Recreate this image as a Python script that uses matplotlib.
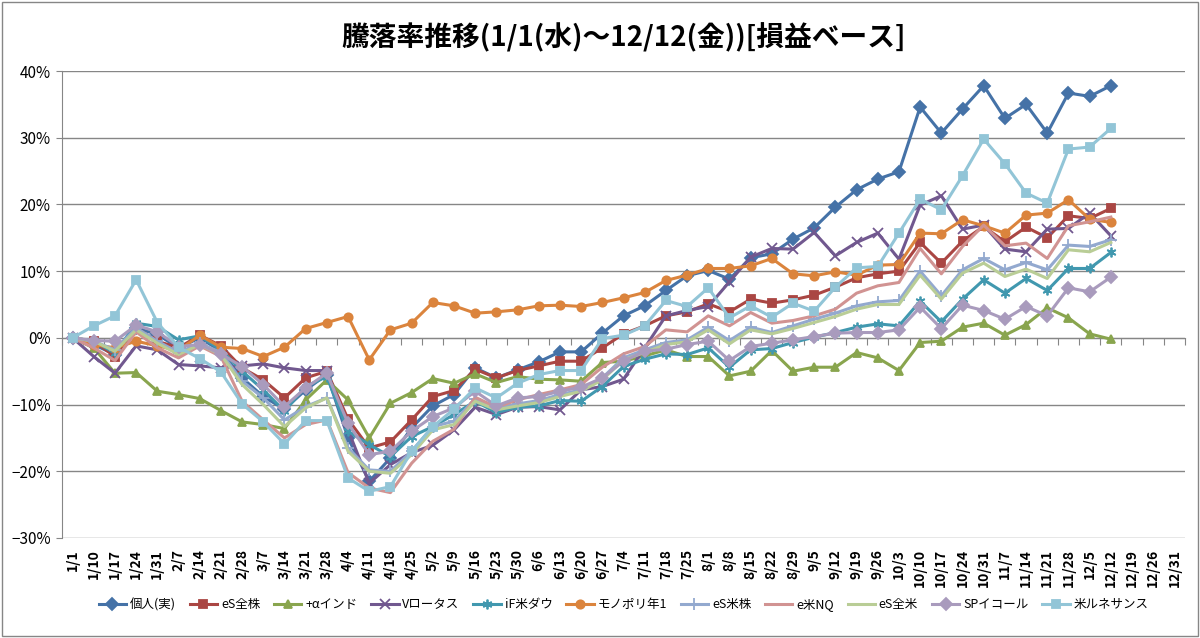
import matplotlib
matplotlib.use('Agg')
import matplotlib.pyplot as plt
from matplotlib.patches import Rectangle
from matplotlib.ticker import PercentFormatter

plt.rcParams['font.family'] = ['Noto Sans CJK JP', 'DejaVu Sans']

# 週ごとの日付ラベル
dates = ['1/1', '1/10', '1/17', '1/24', '1/31', '2/7', '2/14', '2/21', '2/28', '3/7',
         '3/14', '3/21', '3/28', '4/4', '4/11', '4/18', '4/25', '5/2', '5/9', '5/16',
         '5/23', '5/30', '6/6', '6/13', '6/20', '6/27', '7/4', '7/11', '7/18', '7/25',
         '8/1', '8/8', '8/15', '8/22', '8/29', '9/5', '9/12', '9/19', '9/26', '10/3',
         '10/10', '10/17', '10/24', '10/31', '11/7', '11/14', '11/21', '11/28', '12/5', '12/12',
         '12/19', '12/26', '12/31']

# 騰落率 (%)
kojin = [0, -1.0, -2.5, 1.5, 0.5, -1.5, 0.0, -2.0, -6.0, -8.8, -10.7, -7.8, -5.5, -15.0, -21.5,
         -18.0, -13.5, -10.2, -8.5, -4.5, -6.0, -4.8, -3.6, -2.1, -2.1, 0.7, 3.3, 4.8, 7.1, 9.3,
         10.1, 8.8, 12.0, 12.6, 14.8, 16.5, 19.6, 22.2, 23.8, 24.9, 34.6, 30.7, 34.3, 37.8, 32.9,
         35.0, 30.7, 36.7, 36.2, 37.8]
es_zenkabu = [0, -0.5, -2.8, 1.5, -0.5, -1.5, 0.4, -1.2, -4.5, -6.3, -9.0, -6.0, -5.0, -12.2, -16.5,
              -15.6, -12.3, -8.8, -7.9, -4.7, -6.0, -4.9, -4.2, -3.5, -3.5, -1.5, 0.6, 1.8, 3.3, 3.9,
              5.1, 3.9, 5.8, 5.2, 5.7, 6.4, 7.6, 9.0, 9.6, 10.0, 14.3, 11.2, 14.5, 16.7, 14.4,
              16.6, 15.0, 18.3, 17.9, 19.4]
alpha_ind = [0, -1.5, -5.3, -5.2, -8.0, -8.5, -9.1, -10.9, -12.6, -13.0, -13.6, -9.3, -6.3, -9.3, -15.0,
             -9.8, -8.2, -6.1, -6.8, -5.4, -6.7, -5.8, -6.2, -6.3, -6.5, -3.7, -3.5, -2.7, -1.8, -2.8,
             -2.8, -5.7, -5.0, -1.9, -5.0, -4.4, -4.4, -2.2, -3.0, -4.9, -0.7, -0.5, 1.6, 2.2, 0.4,
             2.0, 4.5, 3.0, 0.6, -0.2]
v_lotus = [0, -2.8, -5.3, -1.2, -1.8, -4.0, -4.2, -4.5, -4.2, -3.9, -4.5, -4.9, -4.9, -13.8, -21.8,
           -19.0, -17.2, -16.1, -13.8, -10.4, -11.5, -10.4, -10.3, -10.8, -7.8, -7.3, -6.2, -1.5, 3.3, 4.1,
           4.7, 8.4, 12.1, 13.4, 13.3, 15.8, 12.3, 14.3, 15.7, 11.8, 19.9, 21.3, 16.3, 16.9, 13.3,
           12.9, 16.3, 16.4, 18.7, 15.3]
if_dow = [0, -0.5, -2.3, 2.2, 1.7, -0.3, 0.3, -1.8, -5.0, -7.8, -11.0, -7.3, -5.8, -14.0, -16.0,
          -17.8, -14.8, -13.3, -11.5, -9.5, -11.2, -10.4, -10.2, -9.4, -9.5, -7.3, -4.3, -3.2, -2.4, -2.5,
          -1.5, -4.4, -1.8, -1.6, -0.7, 0.1, 0.8, 1.6, 2.1, 1.8, 5.5, 2.4, 5.8, 8.7, 6.7,
          8.9, 7.1, 10.4, 10.4, 12.8]
monopoly = [0, -1.0, -1.5, -0.5, -1.2, -1.9, 0.4, -1.4, -1.6, -2.8, -1.4, 1.4, 2.3, 3.2, -3.3,
            1.2, 2.2, 5.3, 4.8, 3.7, 3.9, 4.2, 4.8, 4.9, 4.7, 5.3, 6.0, 6.8, 8.6, 9.4,
            10.4, 10.4, 10.8, 11.9, 9.6, 9.3, 9.9, 9.4, 10.9, 11.0, 15.7, 15.6, 17.7, 16.8, 15.7,
            18.4, 18.7, 20.7, 17.8, 17.3]
es_beikabu = [0, -0.5, -1.8, 1.5, -0.5, -2.2, -0.8, -2.2, -6.5, -9.0, -12.3, -10.3, -9.0, -16.5, -19.8,
              -20.0, -17.0, -13.3, -12.5, -9.2, -10.5, -9.9, -9.4, -8.5, -7.8, -6.0, -3.0, -1.8, -0.7, -0.3,
              1.6, -0.4, 1.6, 0.8, 1.8, 2.8, 3.7, 4.8, 5.4, 5.6, 10.0, 6.3, 10.2, 11.9, 10.2,
              11.3, 10.2, 13.9, 13.7, 14.7]
e_nq = [0, -1.5, -3.4, 0.9, -1.5, -3.0, -1.2, -2.8, -9.5, -12.3, -15.0, -13.0, -12.3, -20.2, -22.5,
        -23.2, -18.8, -15.5, -13.7, -8.9, -10.4, -9.3, -8.5, -7.8, -7.0, -4.4, -2.4, -1.3, 1.2, 0.9,
        3.3, 1.8, 3.8, 2.2, 2.6, 3.3, 4.3, 6.7, 7.8, 8.3, 13.4, 9.6, 13.7, 16.9, 13.8,
        14.2, 11.9, 16.8, 17.4, 18.1]
es_zenbei = [0, -0.5, -2.0, 1.2, -0.8, -2.5, -1.0, -2.5, -7.0, -10.0, -13.3, -10.5, -9.0, -17.0, -20.0,
             -20.3, -17.5, -13.8, -13.0, -9.5, -10.8, -10.2, -9.7, -8.8, -8.0, -6.3, -3.3, -2.2, -1.0, -0.6,
             1.2, -0.9, 1.2, 0.6, 1.4, 2.3, 3.2, 4.3, 5.0, 5.0, 9.4, 5.8, 9.7, 11.2, 9.2,
             10.3, 8.9, 13.2, 12.9, 14.3]
sp_equal = [0, -0.4, -0.5, 1.9, 0.9, -1.3, -1.0, -2.4, -4.3, -7.0, -10.3, -7.5, -5.3, -12.8, -17.5,
            -17.0, -14.0, -11.8, -10.5, -8.0, -10.2, -9.0, -8.8, -8.0, -7.4, -6.0, -3.5, -2.0, -1.7, -1.0,
            -0.5, -3.4, -1.3, -0.8, -0.3, 0.2, 0.7, 0.8, 0.8, 1.2, 4.6, 1.4, 4.9, 4.1, 2.8,
            4.7, 3.3, 7.5, 6.9, 9.1]
renaissance = [0, 1.8, 3.3, 8.7, 2.3, -1.4, -3.1, -5.1, -9.9, -12.6, -15.9, -12.4, -12.4, -21.0, -23.0,
               -22.3, -17.0, -13.3, -10.7, -7.5, -9.0, -6.8, -5.5, -4.9, -4.9, -0.1, 0.4, 1.8, 5.6, 4.7,
               7.5, 3.0, 4.8, 3.1, 5.2, 4.0, 7.6, 10.5, 10.7, 15.7, 20.8, 19.2, 24.3, 29.8, 26.1,
               21.7, 20.2, 28.3, 28.6, 31.4]

asterisk = (6, 2, 0)
series = [
    ('個人(実)', kojin, '#4572A7', 'D'),
    ('eS全株', es_zenkabu, '#AA4643', 's'),
    ('+αインド', alpha_ind, '#89A54E', '^'),
    ('Vロータス', v_lotus, '#71588F', 'x'),
    ('iF米ダウ', if_dow, '#4198AF', asterisk),
    ('モノポリ年1', monopoly, '#DB843D', 'o'),
    ('eS米株', es_beikabu, '#93A9CF', '+'),
    ('e米NQ', e_nq, '#D19392', None),
    ('eS全米', es_zenbei, '#B9CD96', None),
    ('SPイコール', sp_equal, '#A99BBD', 'D'),
    ('米ルネサンス', renaissance, '#92C5D7', 's'),
]

fig = plt.figure(figsize=(12, 6.38), dpi=100)
ax = fig.add_axes([62 / 1200, 1 - 538 / 638, (1185 - 62) / 1200, (538 - 71) / 638])

grid_col = '#868686'
for name, vals, col, mk in series:
    ms = 6
    if mk == 'x' or mk == asterisk:
        ms = 7
    if mk == '+':
        ms = 8
    ax.plot(range(len(vals)), vals, color=col, lw=2.2, marker=mk, ms=ms,
            mew=1.3, label=name)

ax.set_xlim(-0.5, len(dates) - 0.5)
ax.set_ylim(-30, 40)
ax.set_yticks(range(-30, 41, 10))
ax.yaxis.set_major_formatter(PercentFormatter(decimals=0))
ax.yaxis.grid(True, color=grid_col, lw=1)
ax.set_axisbelow(True)
ax.tick_params(axis='y', length=4, color=grid_col, labelsize=11, pad=4)

ax.set_xticks(range(len(dates)))
ax.set_xticklabels(dates, rotation=90, fontsize=10, fontweight='bold')
ax.tick_params(axis='x', length=0, pad=8)

for s in ['top', 'right', 'bottom']:
    ax.spines[s].set_visible(False)
ax.spines['left'].set_color(grid_col)

# 0%の位置にカテゴリ軸
sec = ax.secondary_xaxis(30 / 70)
sec.set_xticks([i - 0.5 for i in range(len(dates) + 1)])
sec.set_xticklabels([])
sec.tick_params(length=5, color=grid_col, direction='out')
sec.spines['bottom'].set_color(grid_col)

ax.set_title('騰落率推移(1/1(水)～12/12(金))[損益ベース]', fontsize=20,
             fontweight='bold', pad=18)

ax.legend(loc='center', bbox_to_anchor=(0.5, -0.143), ncol=11, frameon=False,
          fontsize=9, handlelength=2.2, columnspacing=1.1, handletextpad=0.3)

fig.patches.append(Rectangle((0.002, 0.003), 0.996, 0.994, transform=fig.transFigure,
                             fill=False, edgecolor=grid_col, lw=1))

fig.savefig('out.png', dpi=100)
